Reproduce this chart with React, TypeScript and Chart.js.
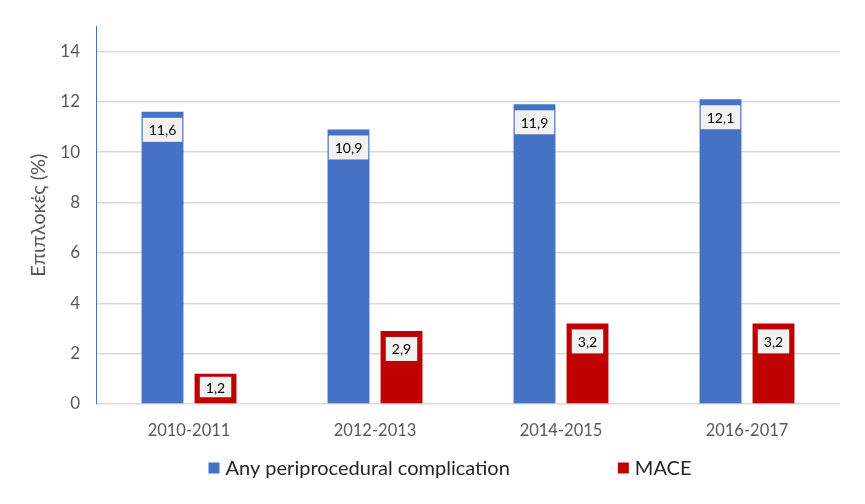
import React, { useEffect, useRef } from "react";
import { Chart, registerables } from "chart.js";

Chart.register(...registerables);

const categories = ["2010-2011", "2012-2013", "2014-2015", "2016-2017"];
const seriesNames = ["Any periprocedural complication", "MACE"];
const anyComplication = [11.6, 10.9, 11.9, 12.1];
const mace = [1.2, 2.9, 3.2, 3.2];
const seriesColors = ["#4472C4", "#C00000"];
const yTitle = "Επιπλοκές (%)";

const FONT = "Lato, 'Open Sans', sans-serif";

const labelPlugin = {
  id: "barLabels",
  afterDatasetsDraw(chart: any) {
    const ctx = chart.ctx;
    ctx.save();
    ctx.font = `14px ${FONT}`;
    chart.data.datasets.forEach((ds: any, di: number) => {
      const meta = chart.getDatasetMeta(di);
      meta.data.forEach((bar: any, i: number) => {
        const v = ds.data[i];
        const txt = String(v.toFixed(1)).replace(".", ",");
        const w = ctx.measureText(txt).width + 12;
        const barH = bar.base - bar.y;
        let h = 24;
        let off = 6;
        if (barH < off + h + 4) {
          off = 3;
          h = Math.max(14, barH - off - 6);
        }
        const top = bar.y + off;
        ctx.fillStyle = "#F2F2F2";
        ctx.fillRect(bar.x - w / 2, top, w, h);
        ctx.fillStyle = "#000000";
        ctx.textAlign = "center";
        ctx.textBaseline = "middle";
        ctx.fillText(txt, bar.x, top + h / 2 + 1);
      });
    });
    ctx.restore();
  },
};

const legendPlugin = {
  id: "customLegend",
  afterDraw(chart: any) {
    const ctx = chart.ctx;
    ctx.save();
    ctx.font = `20px ${FONT}`;
    const box = 11;
    const gapText = 6;
    const gapItems = 108;
    const widths = seriesNames.map((n) => ctx.measureText(n).width);
    const total =
      widths.reduce((a, b) => a + b, 0) + seriesNames.length * (box + gapText) + gapItems * (seriesNames.length - 1);
    let x = 450 - total / 2;
    const y = 468;
    seriesNames.forEach((n, i) => {
      ctx.fillStyle = seriesColors[i];
      ctx.fillRect(x, y - box / 2, box, box);
      x += box + gapText;
      ctx.fillStyle = "#262626";
      ctx.textAlign = "left";
      ctx.textBaseline = "middle";
      ctx.fillText(n, x, y + 1);
      x += widths[i] + gapItems;
    });
    ctx.restore();
  },
};

export default function App() {
  const ref = useRef<HTMLCanvasElement | null>(null);
  useEffect(() => {
    if (!ref.current) return;
    const chart = new Chart(ref.current, {
      type: "bar",
      data: {
        labels: categories,
        datasets: [
          {
            label: seriesNames[0],
            data: anyComplication,
            backgroundColor: seriesColors[0],
            categoryPercentage: 0.57,
            barPercentage: 0.79,
          },
          {
            label: seriesNames[1],
            data: mace,
            backgroundColor: seriesColors[1],
            categoryPercentage: 0.57,
            barPercentage: 0.79,
          },
        ],
      },
      options: {
        animation: false,
        responsive: true,
        maintainAspectRatio: false,
        layout: { padding: { top: 22, right: 25, bottom: 60, left: 0 } },
        plugins: {
          legend: { display: false },
          tooltip: { enabled: false },
        },
        scales: {
          x: {
            grid: { display: false, drawTicks: false },
            border: { display: false },
            ticks: { color: "#595959", font: { size: 16.5, family: FONT }, padding: 17 },
            afterFit(scale: any) {
              scale.height = 40;
            },
          },
          y: {
            min: 0,
            max: 15,
            ticks: {
              stepSize: 2,
              includeBounds: false,
              color: "#595959",
              font: { size: 17, family: FONT },
              padding: 16,
            },
            grid: { color: "#D9D9D9", lineWidth: 1.5, drawTicks: false },
            border: { display: true, color: "#4472C4", width: 1 },
            title: {
              display: true,
              text: yTitle,
              color: "#595959",
              font: { size: 20, family: FONT },
              padding: { top: 27, bottom: 0 },
            },
            afterFit(scale: any) {
              scale.width = 96;
            },
          },
        },
      },
      plugins: [labelPlugin, legendPlugin],
    });
    return () => chart.destroy();
  }, []);
  return (
    <div style={{ position: "fixed", left: 0, top: 0, width: 865, height: 504, background: "#fff" }}>
      <canvas ref={ref} />
    </div>
  );
}
